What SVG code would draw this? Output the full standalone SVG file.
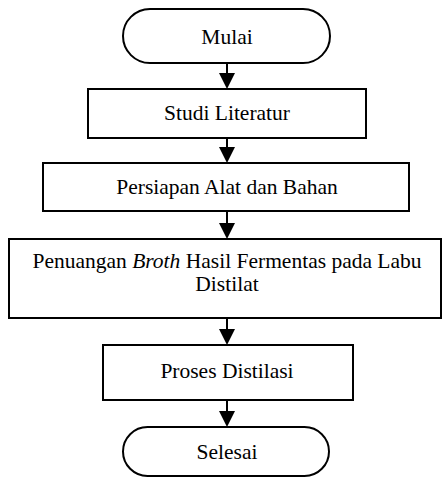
<svg xmlns="http://www.w3.org/2000/svg" width="442" height="477" viewBox="0 0 442 477">
<style>
.s{fill:#fff;stroke:#000;stroke-width:2}
.t{font-family:'Liberation Serif','Times New Roman',serif;font-size:21.5px;fill:#000;text-anchor:middle}
.c{stroke:#000;stroke-width:2;fill:none}
</style>
<rect width="442" height="477" fill="#fff"/>
<g id="connectors">
<path class="c" d="M227,63 V74"/><path d="M219,73 L235,73 L227,89 Z"/>
<path class="c" d="M227,138 V148"/><path d="M219,147 L235,147 L227,163 Z"/>
<path class="c" d="M227,211 V224"/><path d="M219,223 L235,223 L227,239 Z"/>
<path class="c" d="M227,318 V330"/><path d="M219,329 L235,329 L227,345 Z"/>
<path class="c" d="M227,400 V412"/><path d="M219,411 L235,411 L227,427 Z"/>
</g>
<g id="mulai">
<rect class="s" x="123" y="9" width="207" height="54" rx="27" ry="27"/>
<text class="t" x="227" y="44">Mulai</text>
</g>
<g id="studi">
<rect class="s" x="88" y="89" width="278" height="49"/>
<text class="t" x="227" y="120">Studi Literatur</text>
</g>
<g id="persiapan">
<rect class="s" x="43" y="163" width="366" height="48"/>
<text class="t" x="227" y="194">Persiapan Alat dan Bahan</text>
</g>
<g id="penuangan">
<rect class="s" x="9" y="239" width="432" height="79"/>
<text class="t" x="227" y="268">Penuangan <tspan font-style="italic">Broth</tspan> Hasil Fermentas pada Labu</text>
<text class="t" x="227" y="291">Distilat</text>
</g>
<g id="proses">
<rect class="s" x="103" y="345" width="250" height="55"/>
<text class="t" x="227" y="378">Proses Distilasi</text>
</g>
<g id="selesai">
<rect class="s" x="123" y="427" width="206" height="49" rx="24.5" ry="24.5"/>
<text class="t" x="227" y="459">Selesai</text>
</g>
</svg>
